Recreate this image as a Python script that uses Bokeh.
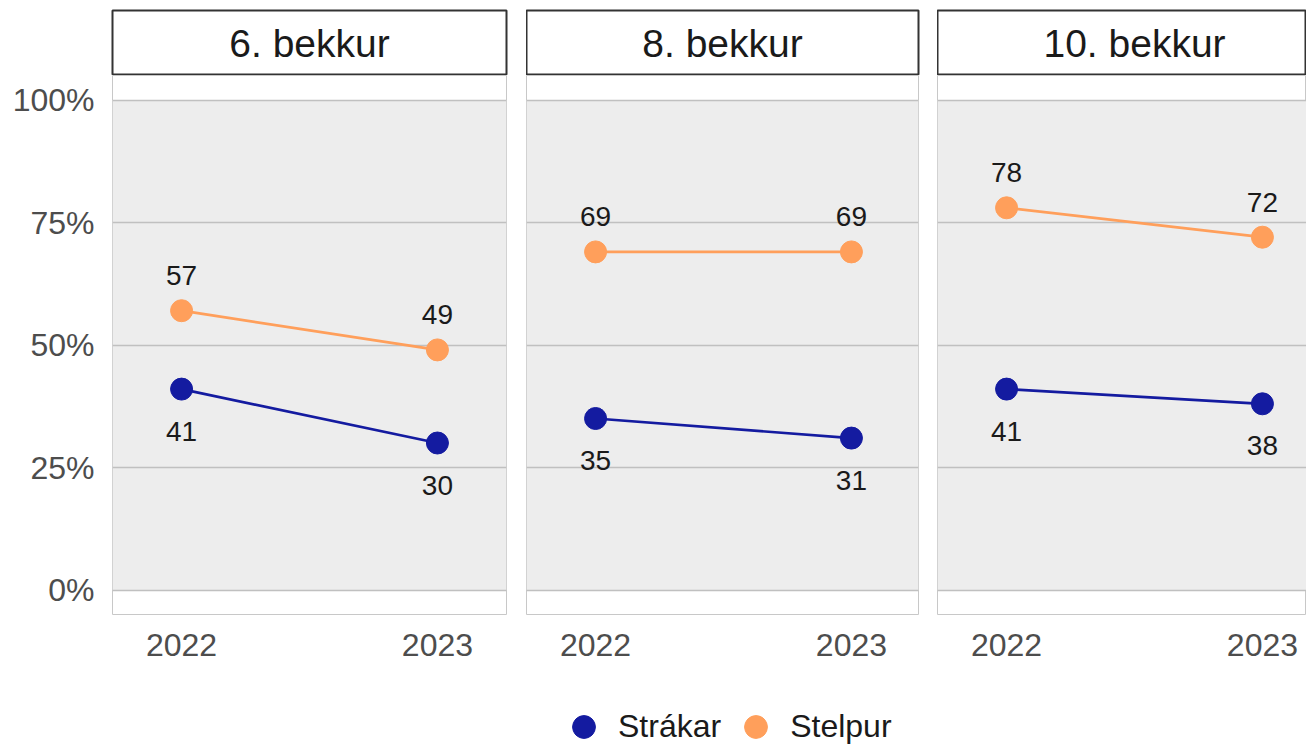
from bokeh.plotting import figure
from bokeh.layouts import column, row
from bokeh.models import (FixedTicker, Grid, BoxAnnotation, Label, Legend, LegendItem,
                          Range1d, ColumnDataSource)
from bokeh.core.properties import value
from bokeh.embed import file_html
from bokeh.resources import INLINE

# ---- data ----
grades = ["6. bekkur", "8. bekkur", "10. bekkur"]
years = [2022, 2023]
year_labels = ["2022", "2023"]
strakar = [[41, 30], [35, 31], [41, 38]]   # Strákar (%)
stelpur = [[57, 49], [69, 69], [78, 72]]   # Stelpur (%)
series_names = ["Strákar", "Stelpur"]
y_ticks = [0, 25, 50, 75, 100]
y_tick_labels = ["0%", "25%", "50%", "75%", "100%"]

# ---- style ----
FONT = "Liberation Sans"
BLUE = "#141BA0"
ORANGE = "#FF9F5B"
PANEL_BG = "#EDEDED"
GRID = "#C0C0C0"
TICK_COL = "#4D4D4D"

LEFT = 112
TOP = 10
frame_widths = [394, 392, 369]
right_borders = [20, 19, 0]
STRIP_H = 64
PANEL_H = 539
PAD_YEARS = 0.27
px_per_year = frame_widths[0] / (years[-1] - years[0] + 2 * PAD_YEARS)

strips = []
panels = []
for i, grade in enumerate(grades):
    left = LEFT if i == 0 else 0
    x_start = years[0] - PAD_YEARS
    x_end = x_start + frame_widths[i] / px_per_year
    # strip header
    s = figure(frame_width=frame_widths[i], frame_height=STRIP_H, min_border_left=left,
               min_border_right=right_borders[i], min_border_top=TOP, min_border_bottom=1,
               x_range=Range1d(0, 1), y_range=Range1d(0, 1),
               x_axis_location=None, y_axis_location=None,
               toolbar_location=None, output_backend="svg")
    s.xgrid.visible = False
    s.ygrid.visible = False
    s.outline_line_color = "#333333"
    s.outline_line_width = 2
    s.background_fill_color = "white"
    s.border_fill_color = "white"
    label_x = (frame_widths[0] / 2) / frame_widths[i] if i == 2 else 0.5
    s.add_layout(Label(x=label_x, y=0.5, text=grade, text_align="center", text_baseline="middle",
                       text_font=FONT, text_font_size="39px", text_color="#1A1A1A",
                       y_offset=-1))
    strips.append(s)

    # panel
    p = figure(frame_width=frame_widths[i], frame_height=PANEL_H, min_border_left=left,
               min_border_right=right_borders[i], min_border_top=0, min_border_bottom=60,
               x_range=Range1d(x_start, x_end), y_range=Range1d(-5, 105),
               y_axis_location="left" if i == 0 else None,
               toolbar_location=None, output_backend="svg")
    p.xgrid.visible = False
    p.ygrid.visible = False
    p.outline_line_color = "#C8C8C8"
    p.outline_line_width = 1
    p.background_fill_color = "white"
    p.border_fill_color = "white"
    p.add_layout(BoxAnnotation(bottom=min(y_ticks), top=max(y_ticks), fill_color=PANEL_BG,
                               fill_alpha=1, line_color=None, level="image"))
    p.add_layout(Grid(dimension=1, ticker=FixedTicker(ticks=y_ticks), grid_line_color=GRID,
                      grid_line_width=1.5, level="underlay"))

    xa = p.xaxis[0]
    xa.ticker = FixedTicker(ticks=years)
    xa.major_label_overrides = {y: l for y, l in zip(years, year_labels)}
    xa.axis_line_color = None
    xa.major_tick_line_color = None
    xa.minor_tick_line_color = None
    xa.major_label_text_font = FONT
    xa.major_label_text_font_size = "32px"
    xa.major_label_text_color = TICK_COL
    xa.major_label_standoff = 13
    if i == 0:
        ya = p.yaxis[0]
        ya.ticker = FixedTicker(ticks=y_ticks)
        ya.major_label_overrides = {t: l for t, l in zip(y_ticks, y_tick_labels)}
        ya.axis_line_color = None
        ya.major_tick_line_color = None
        ya.minor_tick_line_color = None
        ya.major_label_text_font = FONT
        ya.major_label_text_font_size = "32px"
        ya.major_label_text_color = TICK_COL
        ya.major_label_standoff = 12

    for vals, col, off in [(strakar[i], BLUE, 42), (stelpur[i], ORANGE, -35)]:
        src = ColumnDataSource(dict(x=years, y=vals, t=[str(v) for v in vals]))
        p.line("x", "y", source=src, line_color=col, line_width=2.7)
        p.scatter("x", "y", source=src, size=22, fill_color=col, line_color=col)
        p.text("x", "y", text="t", source=src, text_align="center", text_baseline="middle",
               y_offset=off, text_font=value(FONT), text_font_size="28px", text_color="#1A1A1A")
    panels.append(p)

# ---- legend (its renderers lie outside this small figure's ranges; only the legend shows) ----
lg = figure(frame_width=420, frame_height=74, min_border_left=531, min_border_right=0,
            min_border_top=0, min_border_bottom=0,
            x_range=Range1d(0, 1), y_range=Range1d(0, 1),
            x_axis_location=None, y_axis_location=None,
            toolbar_location=None, output_backend="svg")
lg.xgrid.visible = False
lg.ygrid.visible = False
lg.outline_line_color = None
r_b = lg.scatter(years, strakar[0], fill_color=BLUE, line_color=BLUE, size=22)
r_o = lg.scatter(years, stelpur[0], fill_color=ORANGE, line_color=ORANGE, size=22)
legend = Legend(items=[LegendItem(label=series_names[0], renderers=[r_b]),
                       LegendItem(label=series_names[1], renderers=[r_o])],
                orientation="horizontal", location="top_left",
                glyph_width=57, glyph_height=57, label_standoff=6, spacing=6,
                padding=0, margin=24, border_line_color=None, background_fill_alpha=0,
                label_text_font=FONT, label_text_font_size="32px", label_text_color="#1A1A1A")
lg.add_layout(legend, "center")

layout = column(row(*strips, spacing=0), row(*panels, spacing=0), lg, spacing=0)
open("out.html", "w").write(file_html(layout, INLINE))
